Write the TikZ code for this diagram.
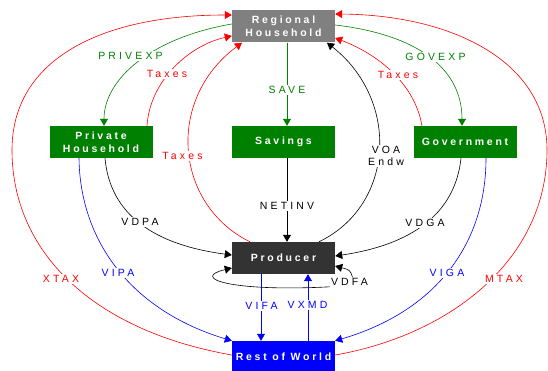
\documentclass[tikz,border=0pt]{standalone}
\usepackage{fontspec}
\setmainfont{Liberation Sans}
\usetikzlibrary{arrows.meta}

\definecolor{boxgreen}{RGB}{0,128,0}
\definecolor{boxgray}{RGB}{128,128,128}
\definecolor{boxdark}{RGB}{51,51,51}

\newcommand{\boxfont}{\fontsize{10.5}{12.5}\selectfont\bfseries\addfontfeature{LetterSpace=26}}
\newcommand{\lblfont}{\fontsize{10.5}{12}\selectfont\addfontfeature{LetterSpace=30}}

\tikzstyle{block}=[fill=boxgreen, text=white, minimum width=103pt, minimum height=32pt, inner sep=0pt, align=center, font=\boxfont]
\tikzstyle{flow}=[draw, line width=0.6pt, -{Triangle[length=7pt,width=8pt]}]
\tikzstyle{lbl}=[fill=white, inner sep=1pt, align=center, font=\lblfont]

\begin{document}
\begin{tikzpicture}[x=1pt,y=1pt]
\useasboundingbox (0,0) rectangle (548,-371);

\node[block,fill=boxgray] (rh) at (283.5,-26.5) {Regional\\Household};
\node[block] (ph) at (101,-142) {Private\\Household};
\node[block] (sav) at (283.5,-142) {Savings};
\node[block] (gov) at (465,-142) {Government};
\node[block,fill=boxdark] (prod) at (283.5,-258) {Producer};
\node[block,fill=blue] (row) at (283.5,-357) {Rest of World};
\node[lbl] (lvdfa) at (349.5,-282) {VDFA};

% private household
\draw[flow,boxgreen] ([yshift=2.5]rh.west) .. controls (150,-38) and (104,-80) .. ([xshift=3]ph.north);
\draw[flow,red] ([xshift=46]ph.north) .. controls (150,-80) and (190,-45) .. ([yshift=-9.5]rh.west);
\draw[flow,blue] ([xshift=-22]ph.south) .. controls (80,-240) and (130,-310) .. (row.north west);
\draw[flow,black] ([xshift=4]ph.south) .. controls (110,-215) and (155,-245) .. ([yshift=3]prod.west);

% savings
\draw[flow,boxgreen] ([xshift=3.5]rh.south) -- ([xshift=3.5]sav.north);
\draw[flow,black] ([xshift=3.5]sav.south) -- ([xshift=3.5]prod.north);

% producer
\draw[flow,red] ([xshift=-33.5]prod.north) .. controls (175,-205) and (165,-100) .. ([xshift=-41.5]rh.south);
\draw[flow,black] ([xshift=35.5]prod.north) .. controls (395,-205) and (400,-100) .. ([xshift=43.5]rh.south);
\draw[flow,black] ([xshift=3]lvdfa.north) .. controls (350,-270) .. ([yshift=-8]prod.east);
\draw[flow,black] (lvdfa.south west) .. controls (230,-292) and (190,-278) .. ([yshift=-10]prod.west);
\draw[flow,blue] ([xshift=-22.5]prod.south) -- ([xshift=-22.5]row.north);
\draw[flow,blue] ([xshift=24.5]row.north) -- ([xshift=24.5]prod.south);

% government
\draw[flow,red] ([xshift=-43]gov.north) .. controls (415,-85) and (380,-55) .. ([yshift=-11.5]rh.east);
\draw[flow,boxgreen] ([yshift=1.5]rh.east) .. controls (420,-35) and (462,-70) .. ([xshift=-3]gov.north);
\draw[flow,blue] ([xshift=21]gov.south) .. controls (486,-240) and (440,-310) .. (row.north east);
\draw[flow,black] ([xshift=-4]gov.south) .. controls (455,-215) and (410,-245) .. ([yshift=2]prod.east);

% rest of world
\draw[flow,red] ([yshift=2]row.west) .. controls (90,-330) and (12,-250) .. (12,-150)
  .. controls (12,-60) and (100,-15) .. ([yshift=11.5]rh.west);
\draw[flow,red] ([yshift=2]row.east) .. controls (450,-335) and (547,-260) .. (547,-150)
  .. controls (547,-60) and (450,-15) .. ([yshift=12.5]rh.east);

\node[lbl,text=boxgreen] (lprivexp) at (130.5,-56) {PRIVEXP};
\node[lbl,text=red] (ltaxph) at (167,-74) {Taxes};
\node[lbl,text=red] (ltaxprod) at (182.5,-156) {Taxes};
\node[lbl,text=red] (lxtax) at (61,-279) {XTAX};
\node[lbl,text=blue] (lvipa) at (118,-273) {VIPA};
\node[lbl] (lvdpa) at (140,-222) {VDPA};
\node[lbl,text=boxgreen] (lsave) at (287,-90) {SAVE};
\node[lbl] (lnetinv) at (287,-206) {NETINV};
\node[lbl] (lvoa) at (386,-156) {VOA\\Endw};
\node[lbl,text=red] (ltaxgov) at (398,-75) {Taxes};
\node[lbl,text=boxgreen] (lgovexp) at (435.5,-57) {GOVEXP};
\node[lbl,text=red] (lmtax) at (504,-279) {MTAX};
\node[lbl,text=blue] (lviga) at (447,-273) {VIGA};
\node[lbl] (lvdga) at (425,-223) {VDGA};
\node[lbl,text=blue] (lvifa) at (261.5,-306) {VIFA};
\node[lbl,text=blue] (lvxmd) at (307.5,-305) {VXMD};
\end{tikzpicture}
\end{document}
